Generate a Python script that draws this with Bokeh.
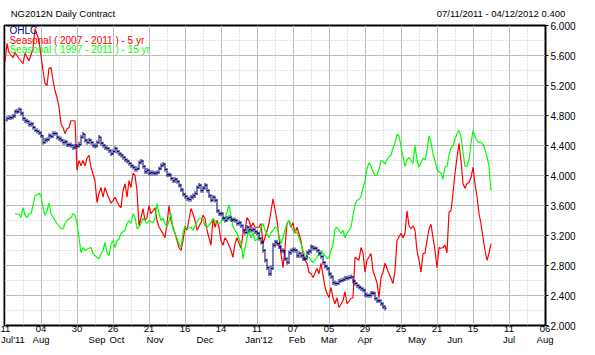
from bokeh.plotting import figure
from bokeh.models import (Range1d, LinearAxis, FixedTicker, Grid, Label,
                          PrintfTickFormatter, ColumnDataSource)
from bokeh.embed import file_html
from bokeh.resources import INLINE

FONT = "Liberation Sans"

# ---------------- data (x = trading-day offset from 11 Jul 2011) ----------------
x_tick_days = [0, 18, 36, 54, 72, 90, 108, 126, 144, 162, 180, 198, 216, 234, 252, 270]
x_tick_labels = ["11", "04", "30", "26", "21", "16", "14", "11", "07", "05",
                 "29", "25", "21", "15", "11", "06"]
month_days = [4, 18, 46, 56, 75, 100, 127, 146, 162, 180, 206, 225, 252, 270]
month_labels = ["Jul'11", "Aug", "Sep", "Oct", "Nov", "Dec", "Jan'12", "Feb",
                "Mar", "Apr", "May", "Jun", "Jul", "Aug"]
y_ticks = [2.0, 2.4, 2.8, 3.2, 3.6, 4.0, 4.4, 4.8, 5.2, 5.6, 6.0]

header_texts = ["NG2012N Daily Contract", "07/11/2011 - 04/12/2012 0.400"]
header_days = [29, 248]

ohlc_first_day = 1
ohlc_open = [
    4.74,4.76,4.77,4.77,4.79,4.85,4.85,4.88,4.83,4.76,
    4.73,4.72,4.68,4.69,4.64,4.60,4.59,4.57,4.53,4.44,
    4.47,4.48,4.53,4.52,4.56,4.56,4.51,4.49,4.47,4.44,
    4.45,4.41,4.41,4.40,4.37,4.39,4.39,4.41,4.51,4.55,
    4.47,4.44,4.47,4.44,4.40,4.39,4.44,4.51,4.43,4.40,
    4.37,4.36,4.33,4.29,4.32,4.36,4.32,4.29,4.27,4.24,
    4.21,4.19,4.16,4.13,4.11,4.08,4.09,4.17,4.19,4.12,
    4.05,4.07,4.03,4.04,4.03,4.03,4.04,4.09,4.13,4.15,
    4.08,4.01,4.01,3.96,3.93,3.95,3.92,3.87,3.81,3.75,
    3.72,3.69,3.68,3.71,3.73,3.76,3.84,3.87,3.80,3.83,
    3.87,3.80,3.73,3.67,3.71,3.67,3.53,3.49,3.49,3.43,
    3.40,3.43,3.44,3.41,3.41,3.40,3.36,3.37,3.33,3.27,
    3.24,3.31,3.28,3.27,3.28,3.25,3.23,3.16,3.11,3.00,
    2.87,2.77,2.69,2.76,3.07,3.11,3.09,3.05,3.00,2.99,
    2.89,2.84,2.97,3.00,3.01,3.00,2.93,2.96,2.93,2.89,
    2.89,2.97,2.99,3.05,3.03,3.03,3.00,2.96,2.92,2.84,
    2.79,2.76,2.69,2.65,2.57,2.56,2.56,2.59,2.60,2.61,
    2.63,2.63,2.64,2.65,2.59,2.56,2.53,2.51,2.49,2.47,
    2.41,2.40,2.40,2.43,2.43,2.36,2.33,2.33,2.29,2.25]
ohlc_high = [
    4.79,4.80,4.80,4.82,4.88,4.89,4.91,4.90,4.85,4.78,
    4.76,4.74,4.72,4.71,4.66,4.63,4.61,4.59,4.54,4.50,
    4.51,4.56,4.56,4.59,4.59,4.58,4.53,4.52,4.49,4.48,
    4.47,4.44,4.44,4.42,4.42,4.42,4.45,4.54,4.58,4.56,
    4.49,4.50,4.49,4.46,4.43,4.47,4.54,4.52,4.45,4.42,
    4.40,4.38,4.35,4.35,4.39,4.38,4.34,4.31,4.29,4.26,
    4.23,4.21,4.18,4.15,4.13,4.12,4.20,4.22,4.21,4.14,
    4.10,4.09,4.07,4.07,4.06,4.07,4.12,4.16,4.18,4.17,
    4.10,4.04,4.03,3.98,3.98,3.97,3.94,3.89,3.83,3.77,
    3.74,3.72,3.74,3.76,3.79,3.87,3.90,3.89,3.86,3.90,
    3.89,3.82,3.75,3.74,3.73,3.69,3.55,3.52,3.51,3.45,
    3.46,3.47,3.46,3.44,3.44,3.42,3.40,3.39,3.35,3.29,
    3.34,3.33,3.31,3.31,3.30,3.27,3.25,3.18,3.13,3.02,
    2.89,2.79,2.80,3.10,3.14,3.14,3.11,3.07,3.03,3.01,
    2.91,3.00,3.03,3.04,3.04,3.02,2.99,2.98,2.95,2.92,
    3.00,3.02,3.08,3.07,3.06,3.05,3.02,2.98,2.94,2.86,
    2.81,2.78,2.71,2.67,2.60,2.59,2.62,2.63,2.64,2.66,
    2.66,2.67,2.68,2.66,2.61,2.58,2.55,2.53,2.51,2.49,
    2.44,2.43,2.46,2.46,2.45,2.38,2.36,2.35,2.31,2.27]
ohlc_low = [
    4.72,4.74,4.74,4.75,4.77,4.82,4.83,4.80,4.73,4.70,
    4.69,4.65,4.65,4.61,4.58,4.56,4.54,4.50,4.41,4.42,
    4.44,4.46,4.49,4.50,4.53,4.48,4.46,4.44,4.41,4.41,
    4.38,4.38,4.37,4.34,4.35,4.36,4.37,4.40,4.49,4.44,
    4.41,4.42,4.41,4.37,4.36,4.37,4.42,4.40,4.37,4.34,
    4.33,4.30,4.26,4.27,4.30,4.29,4.26,4.24,4.21,4.18,
    4.16,4.13,4.10,4.08,4.05,4.05,4.07,4.15,4.09,4.02,
    4.02,4.00,4.00,4.00,4.00,4.00,4.02,4.07,4.11,4.05,
    3.98,3.98,3.93,3.90,3.90,3.89,3.84,3.78,3.72,3.69,
    3.66,3.65,3.65,3.68,3.70,3.74,3.82,3.77,3.77,3.81,
    3.77,3.70,3.64,3.65,3.64,3.50,3.46,3.46,3.40,3.37,
    3.38,3.40,3.38,3.38,3.37,3.33,3.33,3.30,3.24,3.21,
    3.22,3.25,3.24,3.24,3.22,3.20,3.13,3.08,2.97,2.84,
    2.74,2.66,2.66,2.74,3.04,3.06,3.02,2.97,2.96,2.86,
    2.81,2.82,2.94,2.97,2.97,2.90,2.90,2.90,2.86,2.86,
    2.87,2.94,2.96,3.00,3.00,2.97,2.93,2.89,2.81,2.76,
    2.73,2.66,2.62,2.54,2.53,2.53,2.54,2.57,2.58,2.59,
    2.60,2.61,2.62,2.56,2.53,2.50,2.48,2.46,2.44,2.38,
    2.37,2.37,2.37,2.40,2.33,2.30,2.30,2.26,2.22,2.20]
ohlc_close = [
    4.76,4.77,4.77,4.79,4.85,4.85,4.88,4.83,4.76,4.73,
    4.72,4.68,4.69,4.64,4.60,4.59,4.57,4.53,4.44,4.47,
    4.48,4.53,4.52,4.56,4.56,4.51,4.49,4.47,4.44,4.45,
    4.41,4.41,4.40,4.37,4.39,4.39,4.41,4.51,4.55,4.47,
    4.44,4.47,4.44,4.40,4.39,4.44,4.51,4.43,4.40,4.37,
    4.36,4.33,4.29,4.32,4.36,4.32,4.29,4.27,4.24,4.21,
    4.19,4.16,4.13,4.11,4.08,4.09,4.17,4.19,4.12,4.05,
    4.07,4.03,4.04,4.03,4.03,4.04,4.09,4.13,4.15,4.08,
    4.01,4.01,3.96,3.93,3.95,3.92,3.87,3.81,3.75,3.72,
    3.69,3.68,3.71,3.73,3.76,3.84,3.87,3.80,3.83,3.87,
    3.80,3.73,3.67,3.71,3.67,3.53,3.49,3.49,3.43,3.40,
    3.43,3.44,3.41,3.41,3.40,3.36,3.37,3.33,3.27,3.24,
    3.31,3.28,3.27,3.28,3.25,3.23,3.16,3.11,3.00,2.87,
    2.77,2.69,2.76,3.07,3.11,3.09,3.05,3.00,2.99,2.89,
    2.84,2.97,3.00,3.01,3.00,2.93,2.96,2.93,2.89,2.89,
    2.97,2.99,3.05,3.03,3.03,3.00,2.96,2.92,2.84,2.79,
    2.76,2.69,2.65,2.57,2.56,2.56,2.59,2.60,2.61,2.63,
    2.63,2.64,2.65,2.59,2.56,2.53,2.51,2.49,2.47,2.41,
    2.40,2.40,2.43,2.43,2.36,2.33,2.33,2.29,2.25,2.23]

seas5_day = [0,1,2,4,5,7,9,10,12,14,15,17,19,20,21,22,23,24,25,26,27,28,29,30,31,32,33,35,
             36,37,38,39,40,41,42,43,45,46,47,48,49,50,51,53,54,55,57,58,59,60,61,62,63,64,
             65,66,67,68,69,70,71,72,73,75,76,77,78,80,81,82,83,84,85,87,88,89,90,91,93,94,
             95,96,98,99,100,101,103,104,105,106,107,108,109,110,111,113,114,115,116,118,119,
             120,121,122,123,124,125,127,128,129,130,132,134,136,137,138,139,140,141,142,143,
             144,145,146,148,149,150,151,152,153,154,156,157,158,159,160,161,162,163,164,165,
             166,167,169,170,171,173,174,175,177,178,179,180,181,183,184,186,187,188,189,190,
             192,193,194,195,196,198,199,200,201,202,203,204,205,206,207,208,209,210,211,212,
             213,214,215,216,217,218,219,220,221,222,223,224,225,226,227,228,229,230,231,232,
             233,234,235,236,237,238,239,240,241,242,243]
seas5_val = [5.51,5.76,5.64,5.57,5.64,5.56,5.49,5.63,5.53,5.69,5.96,5.80,5.40,5.23,5.20,5.43,
             5.44,5.27,5.13,5.04,4.91,4.69,4.64,4.56,4.62,4.64,4.73,4.73,
             4.07,4.20,4.13,4.20,4.13,4.23,4.27,4.11,3.93,3.64,3.76,3.84,3.71,3.84,3.76,3.63,
             3.67,3.71,3.60,3.57,3.80,3.89,3.71,3.93,3.84,4.03,
             4.00,3.80,3.33,3.43,3.56,3.40,3.44,3.60,3.49,3.57,3.40,3.31,3.27,3.17,3.36,3.60,
             3.40,3.31,3.23,3.04,3.00,3.13,3.31,3.27,3.56,3.49,
             3.40,3.27,3.37,3.47,3.43,3.27,3.07,3.43,3.31,3.40,3.31,3.13,3.07,3.17,3.13,3.00,
             2.91,3.09,3.17,3.03,3.23,
             3.27,3.44,3.40,3.31,3.37,3.31,3.31,3.36,3.09,3.17,3.36,3.69,3.40,3.17,2.96,2.77,
             3.04,3.36,3.40,3.31,
             3.37,3.23,3.31,3.13,2.96,2.87,2.83,2.71,2.69,2.64,2.76,2.69,2.83,2.67,2.51,2.43,
             2.37,2.51,2.37,2.29,
             2.37,2.24,2.33,2.45,2.29,2.36,2.37,2.91,2.87,3.04,2.97,2.71,2.87,2.96,2.73,2.57,
             2.37,2.64,2.71,2.83,
             2.69,2.63,2.56,2.73,3.13,3.23,3.17,3.23,3.53,3.33,3.29,3.33,3.27,3.00,2.87,2.71,
             2.96,2.96,3.13,3.29,
             3.35,3.17,3.00,2.77,3.04,3.03,3.04,3.07,2.97,3.51,3.53,3.76,4.03,4.24,4.43,4.20,
             3.89,3.83,3.89,3.91,
             3.97,4.11,3.89,3.72,3.49,3.36,3.17,3.00,2.87,2.96,3.09]

seas15_day = [5,7,8,9,10,11,12,13,14,15,17,18,19,20,21,22,23,25,26,28,29,30,31,33,34,35,36,37,
              38,39,40,42,43,44,45,46,47,48,49,50,51,52,53,54,55,56,57,58,60,61,62,63,64,65,
              66,67,68,69,70,71,72,74,75,76,77,78,79,80,81,82,83,84,85,87,88,89,90,91,93,94,
              95,97,99,100,101,103,104,106,108,109,110,111,112,113,114,115,116,118,119,120,
              121,122,123,124,125,127,128,129,130,132,133,134,135,136,137,138,139,140,141,142,
              143,144,146,147,148,149,150,152,153,154,156,158,159,160,161,162,163,164,165,166,
              168,169,170,171,172,173,174,175,176,177,178,179,180,181,182,183,184,185,186,187,
              188,189,190,191,192,193,194,195,196,197,198,199,200,201,202,203,204,205,206,207,
              208,209,210,211,212,213,214,215,216,217,218,219,220,221,222,223,224,225,226,227,
              228,229,230,231,232,233,234,235,236,237,238,239,240,241,242,243]
seas15_val = [3.49,3.48,3.44,3.57,3.47,3.44,3.49,3.49,3.60,3.73,3.76,3.73,3.57,3.47,3.53,3.63,
              3.49,3.40,3.36,3.29,3.29,3.36,3.40,3.44,3.49,3.47,3.36,3.17,
              2.97,3.04,3.00,3.03,3.04,2.96,2.93,2.91,2.89,2.96,3.00,3.11,2.97,2.93,3.09,3.13,
              3.04,3.13,3.15,3.23,3.27,3.36,3.40,3.36,3.49,3.45,
              3.29,3.31,3.36,3.43,3.40,3.36,3.40,3.37,3.43,3.63,3.49,3.40,3.43,3.36,3.31,3.40,
              3.49,3.29,3.23,3.09,3.04,3.23,3.33,3.29,3.31,3.27,
              3.33,3.43,3.43,3.33,3.31,3.37,3.43,3.36,3.37,3.45,3.43,3.51,3.61,3.47,3.31,3.27,
              3.23,3.09,2.89,3.04,
              3.17,3.27,3.17,3.23,3.13,3.17,3.31,3.36,3.27,3.17,3.24,3.27,3.31,3.31,3.20,3.09,
              3.17,3.27,3.36,3.40,
              3.33,3.27,3.24,3.17,3.09,3.00,2.93,2.91,2.87,2.84,2.91,3.00,2.96,2.93,2.89,2.91,
              3.00,3.07,3.29,3.31,
              3.23,3.27,3.17,3.23,3.27,3.31,3.47,3.61,3.67,3.68,3.72,3.83,3.93,4.09,4.17,4.13,
              4.05,4.00,4.00,4.09,
              4.20,4.19,4.15,4.21,4.25,4.27,4.37,4.43,4.55,4.53,4.39,4.25,4.12,4.21,4.24,4.20,
              4.16,4.40,4.20,4.11,
              4.17,4.23,4.21,4.33,4.53,4.44,4.29,4.20,4.08,4.05,4.03,3.95,4.12,4.12,4.27,4.37,
              4.39,4.48,4.56,4.60,
              4.52,4.31,4.12,4.13,4.20,4.43,4.60,4.52,4.47,4.44,4.44,4.41,4.35,4.25,4.12,3.80]

# ---------------- figure ----------------
p = figure(width=595, height=355, output_backend="svg", toolbar_location=None,
           x_axis_type=None, y_axis_type=None,
           x_range=Range1d(-0.25, 270.25), y_range=Range1d(2.0, 6.0),
           min_border_left=4, min_border_right=50, min_border_top=25, min_border_bottom=30,
           background_fill_color="white", border_fill_color="white",
           outline_line_color="black", outline_line_width=2)

x_minor = [d + 9 for d in x_tick_days[:-1]]
y_minor = [t + 0.2 for t in y_ticks[:-1]]
xticker = FixedTicker(ticks=x_tick_days, minor_ticks=x_minor)
yticker = FixedTicker(ticks=y_ticks, minor_ticks=y_minor)

for dim, tk in ((0, xticker), (1, yticker)):
    g = Grid(dimension=dim, ticker=tk, grid_line_color="#bdbdbd", grid_line_width=1,
             minor_grid_line_color="#c4c4c4", minor_grid_line_dash="1 2",
             minor_grid_line_width=1)
    p.add_layout(g)

# right axis
yaxis = LinearAxis(ticker=FixedTicker(ticks=y_ticks), formatter=PrintfTickFormatter(format="%.3f"),
                   axis_line_color="black", axis_line_width=1,
                   major_tick_out=3, major_tick_in=0, minor_tick_out=0, minor_tick_in=0,
                   major_label_standoff=2, major_label_text_font=FONT,
                   major_label_text_font_size="10px", major_label_text_color="black")
p.add_layout(yaxis, "right")

def text_axis(ticks, labels, standoff, size):
    return LinearAxis(ticker=FixedTicker(ticks=ticks),
                      major_label_overrides={d: s for d, s in zip(ticks, labels)},
                      axis_line_color=None, major_tick_out=0, major_tick_in=0,
                      minor_tick_out=0, minor_tick_in=0, major_label_standoff=standoff,
                      major_label_text_font=FONT, major_label_text_font_size=size,
                      major_label_text_color="black")

# header line (chart name, date span and tick step) above the frame
p.add_layout(text_axis(header_days, header_texts, 7, "9.5px"), "above")
# bottom axes: day numbers and months
p.add_layout(text_axis(x_tick_days, x_tick_labels, 0, "9.5px"), "below")
p.add_layout(text_axis(month_days, month_labels, -1, "9.5px"), "below")

# seasonal lines
p.line(seas5_day, seas5_val, line_color="#ff0000", line_width=1.2)
p.line(seas15_day, seas15_val, line_color="#00ff00", line_width=1.2)

# OHLC bars
days = [ohlc_first_day + k for k in range(len(ohlc_close))]
src = ColumnDataSource(dict(x=days, xl=[d - 0.75 for d in days], xr=[d + 0.75 for d in days],
                            o=ohlc_open, h=ohlc_high, l=ohlc_low, c=ohlc_close))
NAVY = "#000070"
for x0, y0, x1, y1 in (("x", "l", "x", "h"), ("xl", "o", "x", "o"), ("x", "c", "xr", "c")):
    p.segment(x0=x0, y0=y0, x1=x1, y1=y1, source=src, line_color=NAVY, line_width=1)

# legend texts
legend = [("OHLC", "#000080", 5.935), ("Seasonal ( 2007 - 2011 ) - 5 yr", "#ff0000", 5.80),
          ("Seasonal ( 1997 - 2011 ) - 15 yr", "#00ff00", 5.68)]
for txt, col, yy in legend:
    p.add_layout(Label(x=2.2, y=yy, text=txt, text_color=col, text_font=FONT,
                       text_font_size="10px", text_baseline="middle"))

open("out.html", "w").write(file_html(p, INLINE))
